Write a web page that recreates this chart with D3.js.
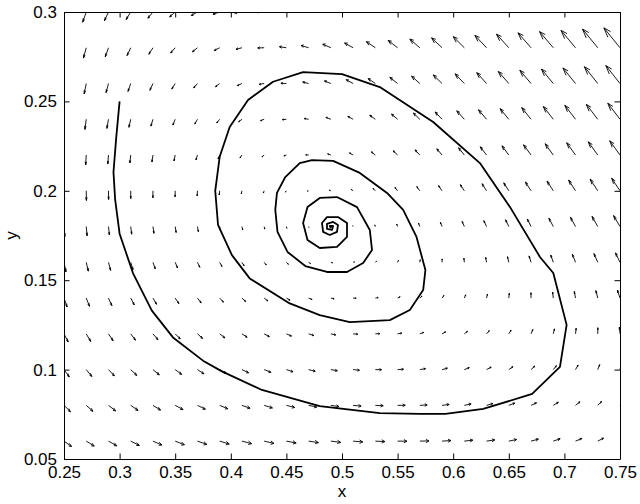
<!DOCTYPE html>
<html>
<head>
<meta charset="utf-8">
<script src="https://cdn.jsdelivr.net/npm/d3@7"></script>
<style>
  body { margin: 0; background: #fff; }
  svg { display: block; }
  text { font-family: "Liberation Sans", Arial, sans-serif; }
</style>
</head>
<body>
<svg id="chart" width="640" height="504"></svg>
<script>
// grid of the direction field
const xGrid = [0.25, 0.27, 0.29, 0.31, 0.33, 0.35, 0.37, 0.39, 0.41, 0.43, 0.45, 0.47, 0.49,
               0.51, 0.53, 0.55, 0.57, 0.59, 0.61, 0.63, 0.65, 0.67, 0.69, 0.71, 0.73, 0.75]
const yGrid = [0.06, 0.08, 0.10, 0.12, 0.14, 0.16, 0.18, 0.20, 0.22, 0.24, 0.26, 0.28, 0.30]

// dx/dt, one row per yGrid value
const uField = [
  [0.130,0.137,0.143,0.148,0.153,0.157,0.161,0.163,0.165,0.167,0.167,0.167,0.167,0.165,0.163,0.160,0.156,0.152,0.146,0.140,0.134,0.126,0.118,0.109,0.099,0.088],
  [0.111,0.116,0.122,0.126,0.130,0.134,0.136,0.139,0.140,0.141,0.141,0.140,0.139,0.137,0.134,0.131,0.126,0.121,0.116,0.109,0.102,0.094,0.086,0.076,0.066,0.055],
  [0.091,0.096,0.101,0.104,0.108,0.110,0.112,0.114,0.114,0.115,0.114,0.113,0.111,0.108,0.105,0.101,0.097,0.091,0.085,0.078,0.071,0.063,0.054,0.044,0.033,0.022],
  [0.072,0.076,0.079,0.082,0.085,0.087,0.088,0.089,0.089,0.089,0.087,0.086,0.083,0.080,0.076,0.072,0.067,0.061,0.055,0.047,0.039,0.031,0.021,0.011,0.001,-0.011],
  [0.053,0.056,0.058,0.061,0.062,0.063,0.064,0.064,0.064,0.062,0.061,0.058,0.055,0.052,0.048,0.043,0.037,0.031,0.024,0.016,0.008,-0.001,-0.011,-0.021,-0.032,-0.044],
  [0.034,0.036,0.037,0.039,0.040,0.040,0.040,0.039,0.038,0.036,0.034,0.031,0.028,0.024,0.019,0.013,0.007,0.001,-0.007,-0.015,-0.023,-0.033,-0.043,-0.054,-0.065,-0.077],
  [0.014,0.015,0.016,0.017,0.017,0.016,0.016,0.014,0.013,0.010,0.007,0.004,0.000,-0.005,-0.010,-0.016,-0.022,-0.029,-0.037,-0.046,-0.055,-0.064,-0.075,-0.086,-0.098,-0.110],
  [0.003,0.003,0.002,0.001,-0.001,-0.002,-0.005,-0.008,-0.010,-0.014,-0.018,-0.022,-0.028,-0.033,-0.039,-0.045,-0.052,-0.060,-0.068,-0.077,-0.086,-0.096,-0.107,-0.118,-0.130,-0.143],
  [-0.008,-0.010,-0.012,-0.015,-0.018,-0.021,-0.025,-0.028,-0.033,-0.038,-0.043,-0.050,-0.056,-0.061,-0.068,-0.074,-0.082,-0.090,-0.098,-0.108,-0.117,-0.128,-0.139,-0.151,-0.163,-0.176],
  [-0.019,-0.023,-0.027,-0.031,-0.035,-0.040,-0.045,-0.050,-0.056,-0.062,-0.069,-0.076,-0.084,-0.090,-0.096,-0.104,-0.111,-0.120,-0.129,-0.138,-0.149,-0.160,-0.171,-0.183,-0.196,-0.209],
  [-0.030,-0.035,-0.041,-0.046,-0.052,-0.058,-0.065,-0.071,-0.079,-0.086,-0.094,-0.102,-0.111,-0.118,-0.125,-0.133,-0.141,-0.150,-0.159,-0.169,-0.180,-0.191,-0.203,-0.216,-0.229,-0.243],
  [-0.041,-0.048,-0.055,-0.062,-0.070,-0.077,-0.085,-0.093,-0.101,-0.110,-0.119,-0.129,-0.139,-0.146,-0.154,-0.162,-0.171,-0.180,-0.190,-0.200,-0.211,-0.223,-0.235,-0.248,-0.262,-0.276],
  [-0.052,-0.061,-0.069,-0.078,-0.087,-0.095,-0.105,-0.115,-0.125,-0.135,-0.145,-0.156,-0.167,-0.175,-0.183,-0.191,-0.201,-0.210,-0.221,-0.231,-0.243,-0.255,-0.267,-0.280,-0.294,-0.309]
]

// dy/dt, one row per yGrid value
const vField = [
  [-0.057,-0.053,-0.050,-0.046,-0.042,-0.039,-0.035,-0.031,-0.027,-0.024,-0.020,-0.016,-0.013,-0.009,-0.005,-0.001,0.002,0.006,0.010,0.013,0.017,0.021,0.025,0.028,0.032,0.036],
  [-0.068,-0.063,-0.059,-0.054,-0.050,-0.045,-0.041,-0.036,-0.031,-0.027,-0.022,-0.018,-0.013,-0.008,-0.004,0.001,0.005,0.010,0.015,0.019,0.024,0.028,0.033,0.038,0.042,0.047],
  [-0.078,-0.073,-0.067,-0.062,-0.056,-0.051,-0.045,-0.040,-0.034,-0.029,-0.023,-0.018,-0.012,-0.007,-0.001,0.004,0.010,0.015,0.021,0.026,0.031,0.037,0.042,0.048,0.053,0.059],
  [-0.087,-0.081,-0.074,-0.068,-0.062,-0.055,-0.049,-0.043,-0.036,-0.030,-0.024,-0.017,-0.011,-0.004,0.002,0.008,0.015,0.021,0.027,0.034,0.040,0.046,0.053,0.059,0.065,0.072],
  [-0.095,-0.088,-0.081,-0.073,-0.066,-0.059,-0.052,-0.044,-0.037,-0.030,-0.023,-0.015,-0.008,-0.001,0.006,0.014,0.021,0.028,0.035,0.042,0.050,0.057,0.064,0.071,0.079,0.086],
  [-0.102,-0.094,-0.086,-0.078,-0.070,-0.061,-0.053,-0.045,-0.037,-0.029,-0.021,-0.013,-0.005,0.004,0.012,0.020,0.028,0.036,0.044,0.052,0.060,0.068,0.077,0.085,0.093,0.101],
  [-0.108,-0.099,-0.090,-0.081,-0.072,-0.063,-0.054,-0.045,-0.036,-0.027,-0.018,-0.009,0.000,0.009,0.018,0.027,0.036,0.045,0.054,0.063,0.072,0.081,0.090,0.099,0.108,0.117],
  [-0.113,-0.103,-0.093,-0.083,-0.074,-0.064,-0.054,-0.044,-0.034,-0.024,-0.014,-0.004,0.006,0.015,0.025,0.035,0.045,0.055,0.065,0.075,0.085,0.094,0.104,0.114,0.124,0.134],
  [-0.117,-0.106,-0.095,-0.085,-0.074,-0.063,-0.052,-0.042,-0.031,-0.020,-0.009,0.002,0.012,0.023,0.034,0.045,0.055,0.066,0.077,0.088,0.098,0.109,0.120,0.131,0.141,0.152],
  [-0.120,-0.108,-0.097,-0.085,-0.073,-0.062,-0.050,-0.039,-0.027,-0.015,-0.004,0.008,0.020,0.031,0.043,0.055,0.066,0.078,0.090,0.101,0.113,0.124,0.136,0.148,0.159,0.171],
  [-0.122,-0.110,-0.097,-0.084,-0.072,-0.059,-0.047,-0.034,-0.022,-0.009,0.003,0.016,0.028,0.041,0.053,0.066,0.078,0.091,0.103,0.116,0.128,0.141,0.154,0.166,0.179,0.191],
  [-0.123,-0.110,-0.096,-0.083,-0.069,-0.056,-0.043,-0.029,-0.016,-0.002,0.011,0.024,0.038,0.051,0.065,0.078,0.092,0.105,0.118,0.132,0.145,0.159,0.172,0.185,0.199,0.212],
  [-0.123,-0.109,-0.094,-0.080,-0.066,-0.052,-0.037,-0.023,-0.009,0.006,0.020,0.034,0.048,0.063,0.077,0.091,0.106,0.120,0.134,0.148,0.163,0.177,0.191,0.206,0.220,0.234]
]

// the trajectory
const trajX = [0.300,0.297,0.2945,0.296,0.300,0.312,0.329,0.348,0.375,0.392,0.428,0.480,0.534,0.570,0.593,0.627,
  0.671,0.696,0.702,0.690,0.678,0.651,0.624,0.582,0.534,0.500,0.465,0.438,0.4155,0.399,0.390,0.386,
  0.3885,0.401,0.417,0.453,0.480,0.507,0.543,0.561,0.573,0.575,0.567,0.555,0.5405,0.516,0.492,0.473,
  0.462,0.449,0.4415,0.440,0.442,0.451,0.467,0.4865,0.5045,0.519,0.527,0.525,0.5135,0.4955,0.480,0.469,
  0.465,0.469,0.480,0.4955,0.5045,0.5045,0.4964,0.4865,0.482,0.483,0.489,0.4955,0.4964,0.492,0.4865,
  0.4865,0.491,0.492,0.489,0.490]
const trajY = [0.250,0.230,0.2105,0.195,0.176,0.154,0.133,0.118,0.105,0.099,0.0886,0.0796,0.0757,0.0752,0.0752,0.078,
  0.0864,0.1015,0.125,0.154,0.163,0.191,0.2155,0.2385,0.258,0.2653,0.2664,0.261,0.2508,0.2357,0.219,0.200,
  0.181,0.164,0.151,0.137,0.1305,0.1266,0.1277,0.1333,0.1445,0.1557,0.1742,0.1893,0.1988,0.210,0.2167,0.2172,
  0.2155,0.2077,0.1988,0.1893,0.177,0.1658,0.1579,0.1546,0.1546,0.1596,0.1669,0.1781,0.1909,0.1965,0.196,0.1909,
  0.182,0.1725,0.168,0.1686,0.1742,0.182,0.1853,0.1853,0.182,0.177,0.1753,0.177,0.1809,0.1826,0.1815,
  0.1787,0.1781,0.1803,0.1803,0.1792]

const xTicks = [0.25, 0.3, 0.35, 0.4, 0.45, 0.5, 0.55, 0.6, 0.65, 0.7, 0.75]
const xTickLabels = ['0.25','0.3','0.35','0.4','0.45','0.5','0.55','0.6','0.65','0.7','0.75']
const yTicks = [0.05, 0.1, 0.15, 0.2, 0.25, 0.3]
const yTickLabels = ['0.05','0.1','0.15','0.2','0.25','0.3']

const svg = d3.select('#chart')
const margin = {top: 12, right: 20, bottom: 45, left: 64}
const width = 640 - margin.left - margin.right
const height = 504 - margin.top - margin.bottom

const x = d3.scaleLinear().domain([0.25, 0.75]).range([margin.left, margin.left + width])
const y = d3.scaleLinear().domain([0.05, 0.3]).range([margin.top + height, margin.top])

svg.append('defs').append('clipPath').attr('id', 'plotclip')
  .append('rect')
  .attr('x', margin.left).attr('y', margin.top)
  .attr('width', width).attr('height', height)

// quiver, autoscaled like matlab, with open arrow heads
const arrowScale = 0.0525
const alpha = 0.33, beta = 0.33
let arrows = []
yGrid.forEach((yv, i) => {
  xGrid.forEach((xv, j) => {
    arrows.push({x: xv, y: yv, u: uField[i][j] * arrowScale, v: vField[i][j] * arrowScale})
  })
})

function arrowPath(d) {
  let tx = d.x + d.u, ty = d.y + d.v
  let p = d3.path()
  p.moveTo(x(d.x), y(d.y))
  p.lineTo(x(tx), y(ty))
  p.moveTo(x(tx - alpha * (d.u + beta * d.v)), y(ty - alpha * (d.v - beta * d.u)))
  p.lineTo(x(tx), y(ty))
  p.lineTo(x(tx - alpha * (d.u - beta * d.v)), y(ty - alpha * (d.v + beta * d.u)))
  return p.toString()
}

let plot = svg.append('g').attr('clip-path', 'url(#plotclip)')

plot.append('g')
    .attr('class', 'quiver')
  .selectAll('path')
  .data(arrows)
  .enter().append('path')
    .attr('d', arrowPath)
    .attr('fill', 'none')
    .attr('stroke', '#000')
    .attr('stroke-width', 0.9)

let traj = trajX.map((xv, i) => [xv, trajY[i]])
plot.append('path')
  .datum(traj)
  .attr('d', d3.line().x(d => x(d[0])).y(d => y(d[1])))
  .attr('fill', 'none')
  .attr('stroke', '#000')
  .attr('stroke-width', 1.8)
  .attr('stroke-linejoin', 'round')

// axes, ticks inside on all four sides
const tick = 5.5
function styleAxis(g) {
  g.selectAll('path.domain').attr('stroke', '#000').attr('stroke-width', 1)
  g.selectAll('.tick line').attr('stroke', '#000').attr('stroke-width', 1)
  g.selectAll('.tick text').attr('fill', '#000').style('font-size', '17px')
    .style('font-family', '"Liberation Sans", Arial, sans-serif')
}

svg.append('g')
    .attr('transform', `translate(0,${margin.top + height})`)
    .call(d3.axisBottom(x).tickValues(xTicks).tickSizeInner(-tick).tickSizeOuter(0)
      .tickPadding(7).tickFormat((d, i) => xTickLabels[i]))
    .call(styleAxis)

svg.append('g')
    .attr('transform', `translate(${margin.left},0)`)
    .call(d3.axisLeft(y).tickValues(yTicks).tickSizeInner(-tick).tickSizeOuter(0)
      .tickPadding(7).tickFormat((d, i) => yTickLabels[i]))
    .call(styleAxis)

svg.append('g')
    .attr('transform', `translate(0,${margin.top})`)
    .call(d3.axisTop(x).tickValues(xTicks).tickSizeInner(-tick).tickSizeOuter(0).tickFormat(''))
    .call(styleAxis)

svg.append('g')
    .attr('transform', `translate(${margin.left + width},0)`)
    .call(d3.axisRight(y).tickValues(yTicks).tickSizeInner(-tick).tickSizeOuter(0).tickFormat(''))
    .call(styleAxis)

svg.append('text')
    .attr('x', margin.left + width / 2)
    .attr('y', 497)
    .attr('text-anchor', 'middle')
    .style('font-size', '17px')
    .text('x')

svg.append('text')
    .attr('transform', `translate(17,${margin.top + height / 2}) rotate(-90)`)
    .attr('text-anchor', 'middle')
    .style('font-size', '17px')
    .text('y')
</script>
</body>
</html>
